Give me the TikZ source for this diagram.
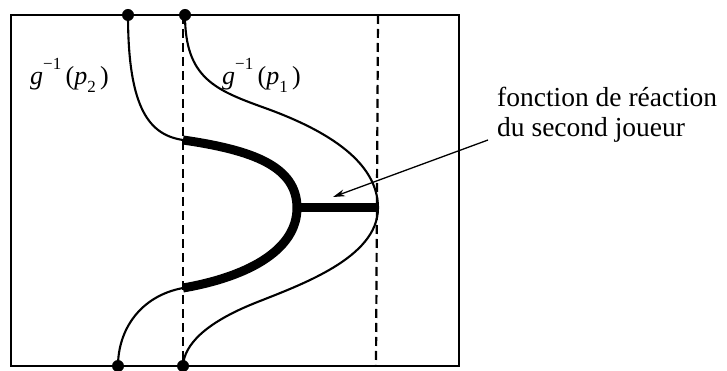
\documentclass[tikz,border=0pt]{standalone}
\usepackage{fontspec}
\setmainfont{Liberation Serif}
\usetikzlibrary{arrows.meta}
\newcommand{\ginv}[1]{\textit{g}\raisebox{0.6em}{\fontsize{17}{17}\selectfont −1}\,(\textit{p}\raisebox{-0.3em}{\fontsize{17}{17}\selectfont #1}\,)}
\tikzset{
  frame/.style={line width=1.6pt},
  curve/.style={line width=2.1pt},
  thick curve/.style={line width=9pt},
  dashline/.style={line width=2.2pt, dash pattern=on 9pt off 5pt},
  dotmark/.style={circle, fill=black, inner sep=0pt, minimum size=12pt},
  lbl/.style={font=\fontsize{26}{30}\selectfont, inner sep=0pt},
  note/.style={font=\fontsize{27.5}{30}\selectfont, inner sep=0pt, align=left},
  pointer/.style={line width=1.3pt, -{Stealth[length=12pt,width=7pt]}}
}
\begin{document}
\begin{tikzpicture}[x=1pt,y=-1pt]
\useasboundingbox (0,0) rectangle (727,371);
% frame
\coordinate (tl) at (11,15);
\coordinate (br) at (459,366);
\draw[frame] (tl) rectangle (br);
% dashed lines
\coordinate (l1) at (183,15);
\coordinate (l2) at (183,366);
\coordinate (r1) at (378,15);
\coordinate (r2) at (376,366);
\draw[dashline] (l1) -- (l2);
\draw[dashline] (r1) -- (r2);
% dots
\node[dotmark] (a) at (128,15) {};
\node[dotmark] (b) at (185,15) {};
\node[dotmark] (c) at (118,366) {};
\node[dotmark] (d) at (183,366) {};
% key points
\coordinate (p) at (183,140);
\coordinate (q) at (183,288);
\coordinate (v) at (297,208);
\coordinate (m) at (378,208);
% g^-1(p2)
\draw[curve] (a.center) .. controls (128,110) and (150,135) .. (p);
\draw[thick curve] (p) .. controls (252,150) and (297,166) .. (v)
                      .. controls (297,248) and (252,276) .. (q);
\draw[curve] (q) .. controls (140,296) and (118,330) .. (c.center);
% bar
\draw[thick curve] (v) -- (m);
% g^-1(p1)
\draw[curve] (b.center) .. controls (185,78) and (215,90) .. (265,108)
   .. controls (340,135) and (378,168) .. (m)
   .. controls (378,258) and (300,285) .. (255,303)
   .. controls (205,323) and (184,345) .. (d.center);
% labels
\node[lbl, anchor=base west] (lp2) at (30,85) {\ginv{2}};
\node[lbl, anchor=base west] (lp1) at (222,85) {\ginv{1}};
\node[note, anchor=base west] (fr) at (497,137) {fonction de réaction\\du second joueur};
\coordinate (as) at (488,140);
\coordinate (at) at (333,197);
\draw[pointer] (as) -- (at);
\end{tikzpicture}
\end{document}
